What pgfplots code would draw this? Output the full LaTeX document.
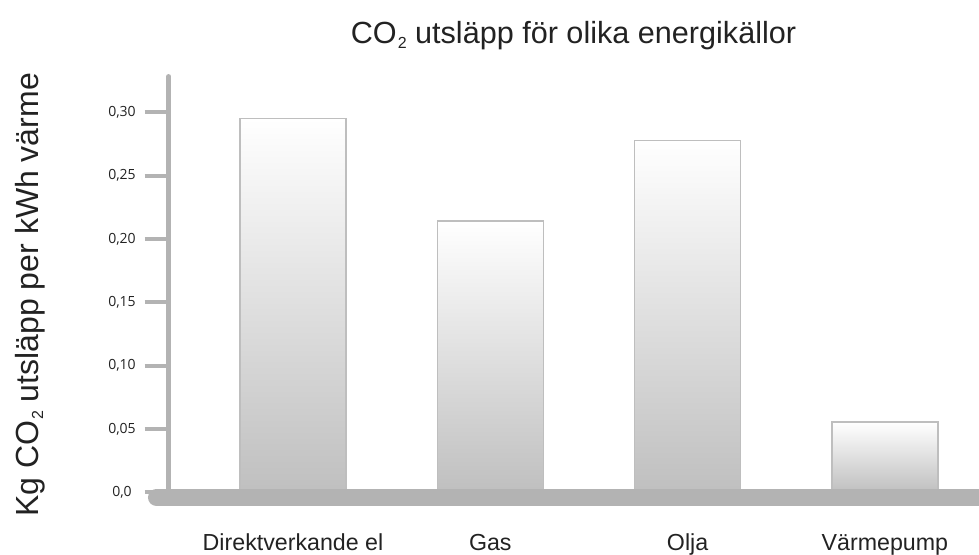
\documentclass[border=0pt]{standalone}
\usepackage{fontspec}
\setmainfont{Liberation Sans}
\newfontfamily\tickfont{Open Sans}
\usepackage{pgfplots}
\pgfplotsset{compat=1.18}
\definecolor{axgray}{HTML}{B3B3B3}
\definecolor{bargray}{HTML}{BEBEBE}
\definecolor{txt}{HTML}{222222}
\newcommand{\subtwo}{\hspace{0.5pt}\raisebox{-2.6pt}{\fontsize{8}{8}\selectfont 2}}
\begin{document}
\begin{tikzpicture}
\useasboundingbox (0,0) rectangle (489.5pt,277pt);
\begin{axis}[
  at={(84.35pt,30.85pt)}, anchor=south west,
  scale only axis, width=405.15pt, height=209pt,
  xmin=-0.630, xmax=3.477, ymin=0, ymax=0.33,
  clip=false,
  axis line style={draw=none},
  xtick={0,1,2,3},
  xticklabels={Direktverkande el, Gas, Olja, Värmepump},
  xticklabel style={font=\fontsize{11.6}{13}\selectfont, anchor=base, yshift=-17pt, text=txt},
  xtick align=inside,
  major x tick style={draw=none},
  ytick={0,0.05,0.1,0.15,0.2,0.25,0.3},
  yticklabels={{0,0},{0,05},{0,10},{0,15},{0,20},{0,25},{0,30}},
  yticklabel style={font=\tickfont\fontsize{7}{8}\selectfont, anchor=center, xshift=-11.35pt, text=txt},
  ytick align=outside,
  major tick length=12pt,
  major y tick style={line width=2pt, draw=axgray},
  ybar, bar width=53pt,
  barsty/.style={draw=bargray, line width=0.75pt, shading=axis, top color=white, middle color=black!1, bottom color=black!25, bar shift=0pt},
]
\addplot[barsty] coordinates {(0,0.2952)};
\addplot[barsty] coordinates {(1,0.2142)};
\addplot[barsty] coordinates {(2,0.2776)};
\addplot[barsty] coordinates {(3,0.0555)};
\draw[axgray, line width=2.4pt, line cap=round] (axis cs:-0.630,0) -- (axis cs:-0.630,0.3283);
\draw[axgray, line width=8.5pt, line cap=round] (axis cs:-0.692,-0.0041) -- (axis cs:3.6,-0.0041);
\end{axis}
\node[anchor=base, font=\fontsize{15.3}{18}\selectfont, text=txt] at (286.75pt,255.5pt) {CO\subtwo{} utsläpp för olika energikällor};
\node[anchor=base, rotate=90, font=\fontsize{16}{19}\selectfont, text=txt] at (19pt,129.5pt) {Kg CO\subtwo{} utsläpp per kWh värme};
\end{tikzpicture}
\end{document}
